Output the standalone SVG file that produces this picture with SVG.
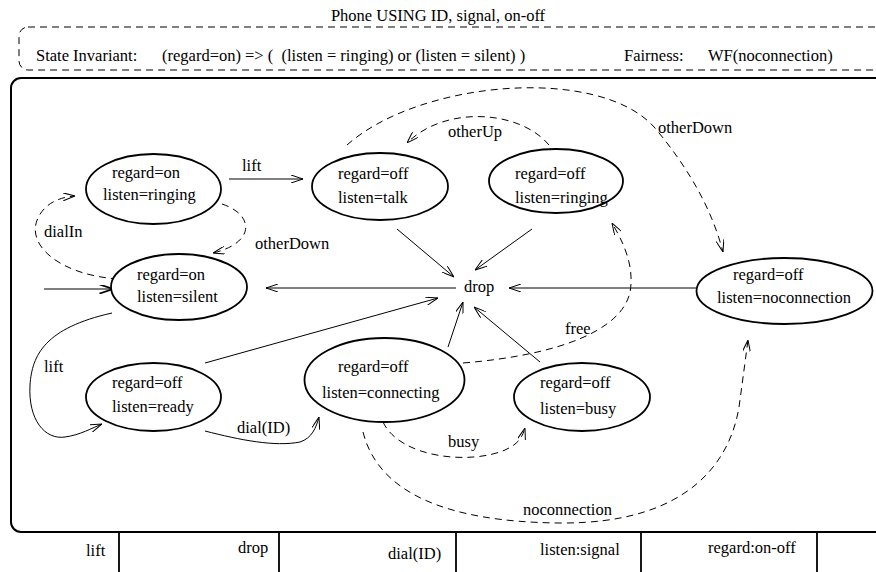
<svg xmlns="http://www.w3.org/2000/svg" width="876" height="572" viewBox="0 0 876 572">
<style>
text{font-family:"Liberation Serif","Times New Roman",serif;font-size:16.5px;fill:#000;white-space:pre}
.node ellipse{fill:#fff;stroke:#000;stroke-width:1.8}
.c{fill:none;stroke:#000;stroke-width:1}
.d{stroke-dasharray:7 5}
.frame{fill:none;stroke:#000;stroke-width:2}
</style>
<defs>
<marker id="ah" viewBox="0 0 12 8" refX="12" refY="4" markerWidth="12" markerHeight="8" markerUnits="userSpaceOnUse" orient="auto">
<path d="M0,0 L12,4 L0,8" fill="none" stroke="#000" stroke-width="1" stroke-dasharray="none"/>
</marker>
<marker id="ah2" viewBox="0 0 12 8" refX="12" refY="4" markerWidth="14" markerHeight="9" markerUnits="userSpaceOnUse" orient="auto">
<path d="M0,0 L12,4 L0,8" fill="none" stroke="#000" stroke-width="1.6"/>
</marker>
</defs>
<rect width="876" height="572" fill="#fff"/>
<g id="header">
<text x="438" y="21" text-anchor="middle">Phone USING ID, signal, on-off</text>
<rect x="19" y="27" width="900" height="43" rx="9" fill="none" stroke="#000" stroke-width="1" stroke-dasharray="7 5"/>
<text x="36" y="61">State Invariant:</text>
<text x="162" y="61">(regard=on) =&gt; (  (listen = ringing) or (listen = silent) )</text>
<text x="624" y="61">Fairness:</text>
<text x="708" y="61">WF(noconnection)</text>
</g>
<g id="frame">
<rect x="11" y="78" width="900" height="454" rx="10" class="frame"/>
<path d="M119,532 V572 M279,532 V572 M456,532 V572 M641,532 V572 M817,532 V572" stroke="#000" stroke-width="1.8" fill="none"/>
<text x="86" y="556">lift</text>
<text x="238" y="553">drop</text>
<text x="388" y="559">dial(ID)</text>
<text x="540" y="555">listen:signal</text>
<text x="708" y="553">regard:on-off</text>
</g>
<g id="connectors">
<path class="c" d="M44,289 L113,289" stroke-width="2" marker-end="url(#ah2)"/>
<path class="c" d="M229,179 L303,179" marker-end="url(#ah)"/>
<path class="c d" d="M118,279 C60,275 25,245 38,218 C45,203 60,197 75,196" marker-end="url(#ah)"/>
<path class="c d" d="M222,204 C255,215 255,243 213,253" marker-end="url(#ah)"/>
<path class="c d" d="M549,145 C520,110 445,105 407,143" marker-end="url(#ah)"/>
<path class="c d" d="M347,145 C420,80 600,65 655,128 C690,170 712,210 723,252" marker-end="url(#ah)"/>
<path class="c" d="M397,229 L454,277" marker-end="url(#ah)"/>
<path class="c" d="M532,229 L475,270" marker-end="url(#ah)"/>
<path class="c" d="M456,288 L266,288" marker-end="url(#ah)"/>
<path class="c" d="M696,288 L509,288" marker-end="url(#ah)"/>
<path class="c" d="M205,363 L438,298" marker-end="url(#ah)"/>
<path class="c" d="M448,347 L463,302" marker-end="url(#ah)"/>
<path class="c" d="M540,362 L474,307" marker-end="url(#ah)"/>
<path class="c" d="M112,313 C45,328 32,355 30,385 C28,420 45,440 65,437 C80,435 92,428 102,424" marker-end="url(#ah)"/>
<path class="c" d="M205,431 C240,440 275,447 300,442 C312,438 316,428 319,417" marker-end="url(#ah)"/>
<path class="c d" d="M383,422 C400,458 470,465 505,450 C518,444 522,438 525,428" marker-end="url(#ah)"/>
<path class="c d" d="M463,363 C560,355 622,330 630,292 C635,265 622,240 612,223" marker-end="url(#ah)"/>
<path class="c d" d="M363,432 C378,492 445,522 560,523 C690,524 733,460 740,400 C744,370 746,355 748,340" marker-end="url(#ah)"/>
<text x="242" y="171">lift</text>
<text x="44" y="237">dialIn</text>
<text x="255" y="249">otherDown</text>
<text x="448" y="137">otherUp</text>
<text x="658" y="133">otherDown</text>
<text x="44" y="372">lift</text>
<text x="237" y="433">dial(ID)</text>
<text x="448" y="447">busy</text>
<text x="565" y="334">free</text>
<text x="523" y="515">noconnection</text>
</g>
<g id="drop"><text x="464" y="292">drop</text></g>
<g id="on-ringing" class="node"><ellipse cx="153.5" cy="189" rx="67.5" ry="35"/><text x="112" y="178">regard=on</text><text x="103" y="200">listen=ringing</text></g>
<g id="on-silent" class="node"><ellipse cx="179" cy="287" rx="68" ry="33"/><text x="137" y="280">regard=on</text><text x="137" y="302">listen=silent</text></g>
<g id="off-talk" class="node"><ellipse cx="380" cy="186.5" rx="68" ry="33.5"/><text x="338" y="179">regard=off</text><text x="338" y="203">listen=talk</text></g>
<g id="off-ringing" class="node"><ellipse cx="556" cy="181" rx="67" ry="32"/><text x="515" y="179">regard=off</text><text x="515" y="203">listen=ringing</text></g>
<g id="off-noconnection" class="node"><ellipse cx="784.5" cy="291" rx="88" ry="33"/><text x="733" y="280">regard=off</text><text x="717" y="303">listen=noconnection</text></g>
<g id="off-ready" class="node"><ellipse cx="153.5" cy="397" rx="67.5" ry="34"/><text x="112" y="388">regard=off</text><text x="112" y="412">listen=ready</text></g>
<g id="off-connecting" class="node"><ellipse cx="384.5" cy="380" rx="80" ry="42"/><text x="338" y="372">regard=off</text><text x="322" y="398">listen=connecting</text></g>
<g id="off-busy" class="node"><ellipse cx="582" cy="397" rx="68" ry="34"/><text x="540" y="388">regard=off</text><text x="540" y="414">listen=busy</text></g>
</svg>
